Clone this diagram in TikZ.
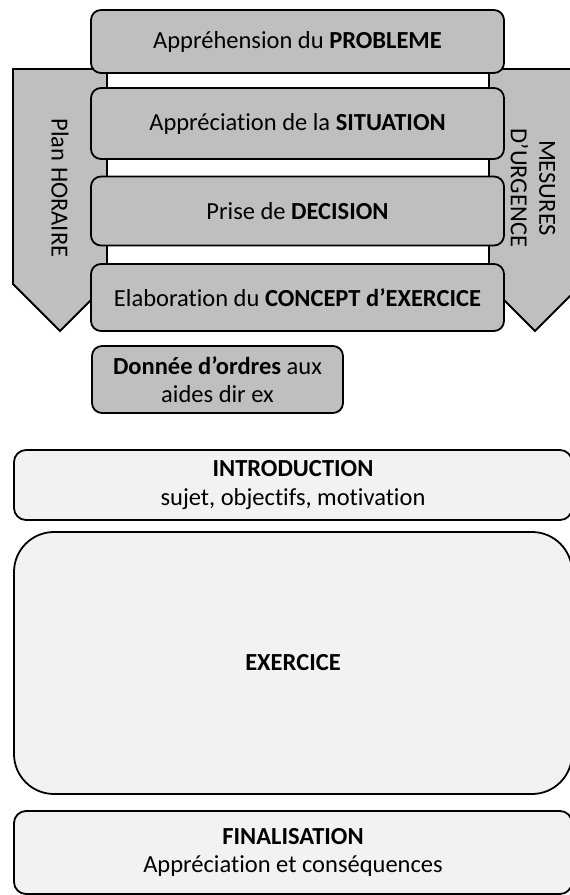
\documentclass[tikz,border=0pt]{standalone}
\usepackage{fontspec}
\setmainfont{Carlito}[Ligatures=NoCommon]
\definecolor{stepgray}{RGB}{191, 191, 191}
\definecolor{phasegray}{RGB}{242, 242, 242}
\usepackage{tikz}
\usetikzlibrary{positioning}

\begin{document}
\begin{tikzpicture}[x=1pt, y=-1pt,
    every node/.style={font=\fontsize{24.5}{28.5}\selectfont, align=center, inner sep=0pt},
    stepbox/.style={draw, line width=1.8pt, fill=stepgray, rounded corners=10pt, minimum width=413pt},
    phasebox/.style={draw, line width=1.8pt, fill=phasegray, rounded corners=12pt, minimum width=558pt},
    sidearrow/.style={draw, line width=1.8pt, fill=stepgray, line join=miter}]
  \useasboundingbox (0,0) rectangle (570,895);

  % side arrows
  \draw[sidearrow] (13,69) -- (107,69) -- (107,284) -- (60,331) -- (13,284) -- cycle;
  \draw[sidearrow] (489,69) -- (581,69) -- (581,285) -- (535,331) -- (489,285) -- cycle;
  \node[rotate=-90] (plan) at (60,188) {Plan HORAIRE};
  \node[rotate=-90] (mesures) at (533,188) {MESURES\\D’URGENCE};

  % steps of the planning
  \node[stepbox, minimum height=63pt] (probleme) at (297.5,41.5) {Appréhension du \textbf{PROBLEME}};
  \node[stepbox, minimum height=71pt] (situation) at (297.5,123.5) {Appréciation de la \textbf{SITUATION}};
  \node[stepbox, minimum height=69pt] (decision) at (297.5,211) {Prise de \textbf{DECISION}};
  \node[stepbox, minimum height=67pt] (concept) at (297.5,297.5) {Elaboration du \textbf{CONCEPT d’EXERCICE}};
  \node[stepbox, minimum width=251pt, minimum height=67pt] (ordres) at (217.5,379.5) {\textbf{Donnée d’ordres} aux\\aides dir ex};

  % phases of the exercise
  \node[phasebox, minimum height=70pt] (intro) at (293,485) {\textbf{INTRODUCTION}\\sujet, objectifs, motivation};
  \node[phasebox, rounded corners=40pt, minimum height=262pt] (exercice) at (293,663) {\textbf{EXERCICE}};
  \node[phasebox, minimum height=83pt] (final) at (293,852.5) {\textbf{FINALISATION}\\Appréciation et conséquences};
\end{tikzpicture}
\end{document}
